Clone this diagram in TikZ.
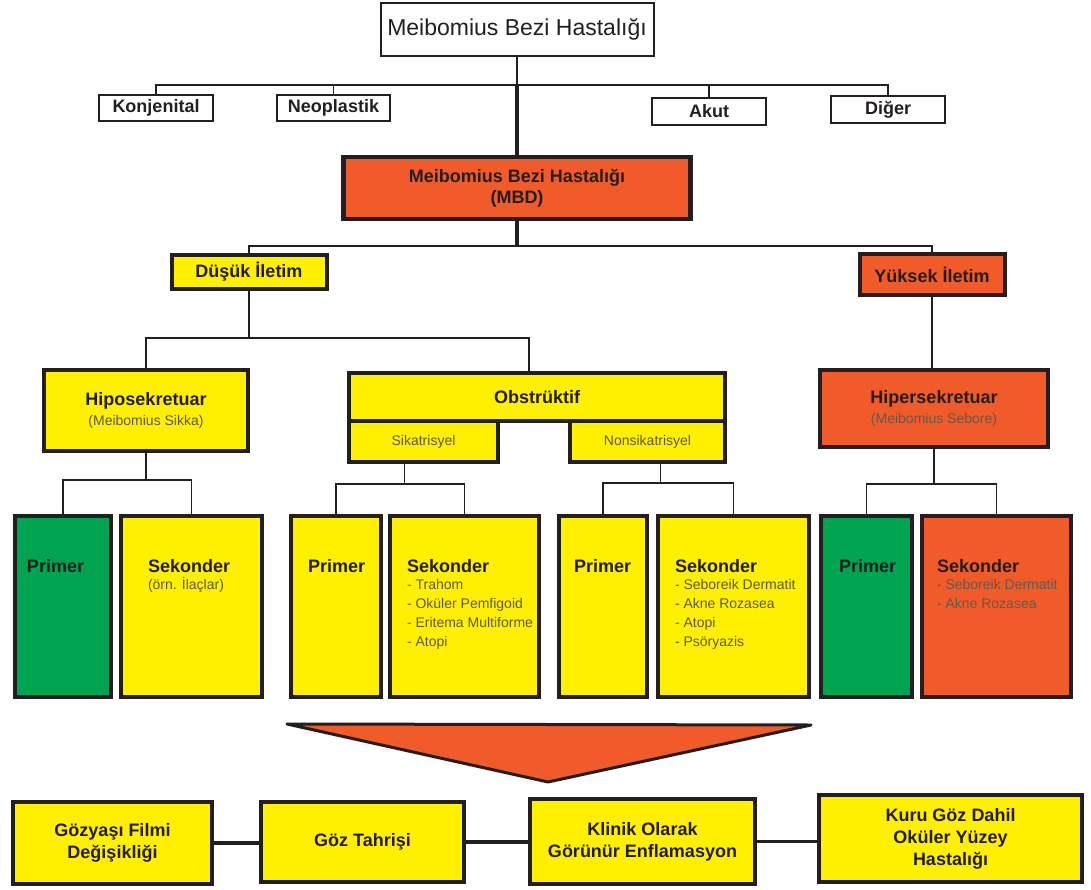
\documentclass[tikz,border=0pt]{standalone}
\usepackage{fontspec}
\setmainfont{Liberation Sans}

\definecolor{cYel}{RGB}{255,240,0}
\definecolor{cOrg}{RGB}{241,90,41}
\definecolor{cGrn}{RGB}{0,163,80}
\definecolor{cLine}{RGB}{35,31,32}
\definecolor{cItm}{RGB}{95,90,80}

\newcommand{\colbox}[3]{\parbox[t][181pt][t]{#1}{\vspace*{43pt}\leftskip=#2\relax\rightskip=0pt plus 1fil\relax #3}}
\newcommand{\hdtxt}[1]{{\bfseries\fontsize{18}{18}\selectfont #1\par}}
\newcommand{\items}[1]{\vspace{-1.5pt}{\mdseries\fontsize{14}{19}\selectfont\leavevmode\color{cItm}#1\par}}

\begin{document}
\begin{tikzpicture}[
  x=1pt,y=-1pt,
  hd/.style={draw=cLine,line width=2pt,fill=white,inner sep=0pt,align=center,text=cLine,font=\bfseries\fontsize{18}{22}\selectfont},
  box/.style={draw=cLine,line width=4pt,inner sep=0pt,align=center,text=cLine,font=\bfseries\fontsize{18}{22}\selectfont},
  ybox/.style={box,fill=cYel},
  obox/.style={box,fill=cOrg},
  tall/.style={box,anchor=north west},
  sub/.style={ybox,font=\fontsize{14}{17}\selectfont,text=cItm},
  ln/.style={draw=cLine,line width=1.6pt},
  trunk/.style={draw=cLine,line width=4.5pt},
  link/.style={draw=cLine,line width=3.5pt}
]
\useasboundingbox (0,0) rectangle (1091,890);

\node[hd,minimum width=273pt,minimum height=53pt,font=\fontsize{23}{27}\selectfont] (mbh) at (517,29.5) {Meibomius Bezi Hastalığı};
\node[hd,minimum width=114pt,minimum height=26pt] (kon) at (156,108) {Konjenital};
\node[hd,minimum width=113pt,minimum height=26pt] (neo) at (333.5,108) {Neoplastik};
\node[hd,minimum width=114pt,minimum height=27pt] (aku) at (709,111.5) {Akut};
\node[hd,minimum width=114pt,minimum height=27pt] (dig) at (888,109.5) {Diğer};

\node[obox,line width=4.5pt,minimum width=347pt,minimum height=62pt] (mbd) at (517,188) {Meibomius Bezi Hastalığı\\[-1pt](MBD)};
\node[ybox,minimum width=155pt,minimum height=34pt] (dus) at (249,272) {Düşük İletim};
\node[obox,minimum width=145pt,minimum height=41pt] (yuk) at (932,274.5) {Yüksek İletim};

\node[ybox,minimum width=204pt,minimum height=81pt] (hipo) at (146,410.5) {Hiposekretuar\\[-2pt]{\mdseries\fontsize{14}{17}\selectfont\color{cItm}(Meibomius Sikka)}};
\node[ybox,minimum width=376pt,minimum height=48pt] (obs) at (537,397) {Obstrüktif};
\node[sub,minimum width=149pt,minimum height=41pt] (sik) at (423.5,441.5) {Sikatrisyel};
\node[sub,minimum width=155pt,minimum height=41pt] (non) at (647.5,441.5) {Nonsikatrisyel};
\node[obox,minimum width=228pt,minimum height=77pt] (hip) at (934,408.5) {Hipersekretuar\\[-2pt]{\mdseries\fontsize{14}{17}\selectfont\color{cItm}(Meibomius Sebore)}};

\node[tall,fill=cGrn] (lprim) at (13,514) {\colbox{96pt}{12pt}{\hdtxt{Primer}}};
\node[tall,fill=cYel] (lsek) at (119,514) {\colbox{141pt}{27pt}{\hdtxt{Sekonder}\items{(örn. İlaçlar)}}};
\node[tall,fill=cYel] (sprim) at (289,514) {\colbox{90pt}{17pt}{\hdtxt{Primer}}};
\node[tall,fill=cYel] (ssek) at (388,514) {\colbox{149pt}{17pt}{\hdtxt{Sekonder}\items{- Trahom\\- Oküler Pemfigoid\\- Eritema Multiforme\\- Atopi}}};
\node[tall,fill=cYel] (nprim) at (557,514) {\colbox{88pt}{15pt}{\hdtxt{Primer}}};
\node[tall,fill=cYel] (nsek) at (656,514) {\colbox{151pt}{17pt}{\hdtxt{Sekonder}\items{- Seboreik Dermatit\\- Akne Rozasea\\- Atopi\\- Psöryazis}}};
\node[tall,fill=cGrn] (hprim) at (819,514) {\colbox{91pt}{18pt}{\hdtxt{Primer}}};
\node[tall,fill=cOrg] (hsek) at (920,514) {\colbox{149pt}{15pt}{\hdtxt{Sekonder}\items{- Seboreik Dermatit\\- Akne Rozasea}}};

\draw[cLine,line width=3pt,fill=cOrg,line join=round] (287,724) -- (811,725) -- (548,782) -- cycle;

\node[ybox,minimum width=199pt,minimum height=82pt] (tear) at (112.5,843) {Gözyaşı Filmi\\Değişikliği};
\node[ybox,minimum width=203pt,minimum height=80pt] (irr) at (362.5,842) {Göz Tahrişi};
\node[ybox,minimum width=225pt,minimum height=85pt] (infl) at (642.5,841.5) {Klinik Olarak\\Görünür Enflamasyon};
\node[ybox,minimum width=263pt,minimum height=87pt] (osd) at (950.5,838.5) {Kuru Göz Dahil\\Oküler Yüzey\\Hastalığı};

\coordinate (j1) at (517,85);
\draw[ln] (mbh.south) -- (j1);
\draw[ln] (kon.north) |- (j1) -| (dig.north);
\draw[ln] (neo.north) -- (neo.north |- j1);
\draw[ln] (aku.north) -- (aku.north |- j1);
\draw[trunk] (j1) -- (mbd.north);
\draw[trunk] (mbd.south) -- ++(0,25) coordinate (j2);
\draw[ln] (dus.north) |- (j2) -| (yuk.north);
\draw[ln] (dus.south) -- ++(0,47) coordinate (j3);
\draw[ln] (hipo.north) |- (j3) -| ([xshift=-8pt]obs.north);
\draw[ln] (yuk.south) -- (yuk.south |- hip.north);
\draw[ln] (hipo.south) -- ++(0,27) coordinate (j4);
\draw[ln] (lprim.north) |- (j4) -| (lsek.north);
\draw[ln] ([xshift=-19pt]sik.south) -- ++(0,20) coordinate (j5);
\draw[ln] (sprim.north) |- (j5) -| (ssek.north);
\draw[ln] ([xshift=13pt]non.south) -- ++(0,19) coordinate (j6);
\draw[ln] (nprim.north) |- (j6) -| (nsek.north);
\draw[ln] (hip.south) -- ++(0,35) coordinate (j7);
\draw[ln] (hprim.north) |- (j7) -| (hsek.north);

\draw[link] (tear.east) -- (tear.east -| irr.west);
\draw[link] (irr.east) -- (irr.east -| infl.west);
\draw[link] (infl.east) -- (infl.east -| osd.west);
\end{tikzpicture}
\end{document}
